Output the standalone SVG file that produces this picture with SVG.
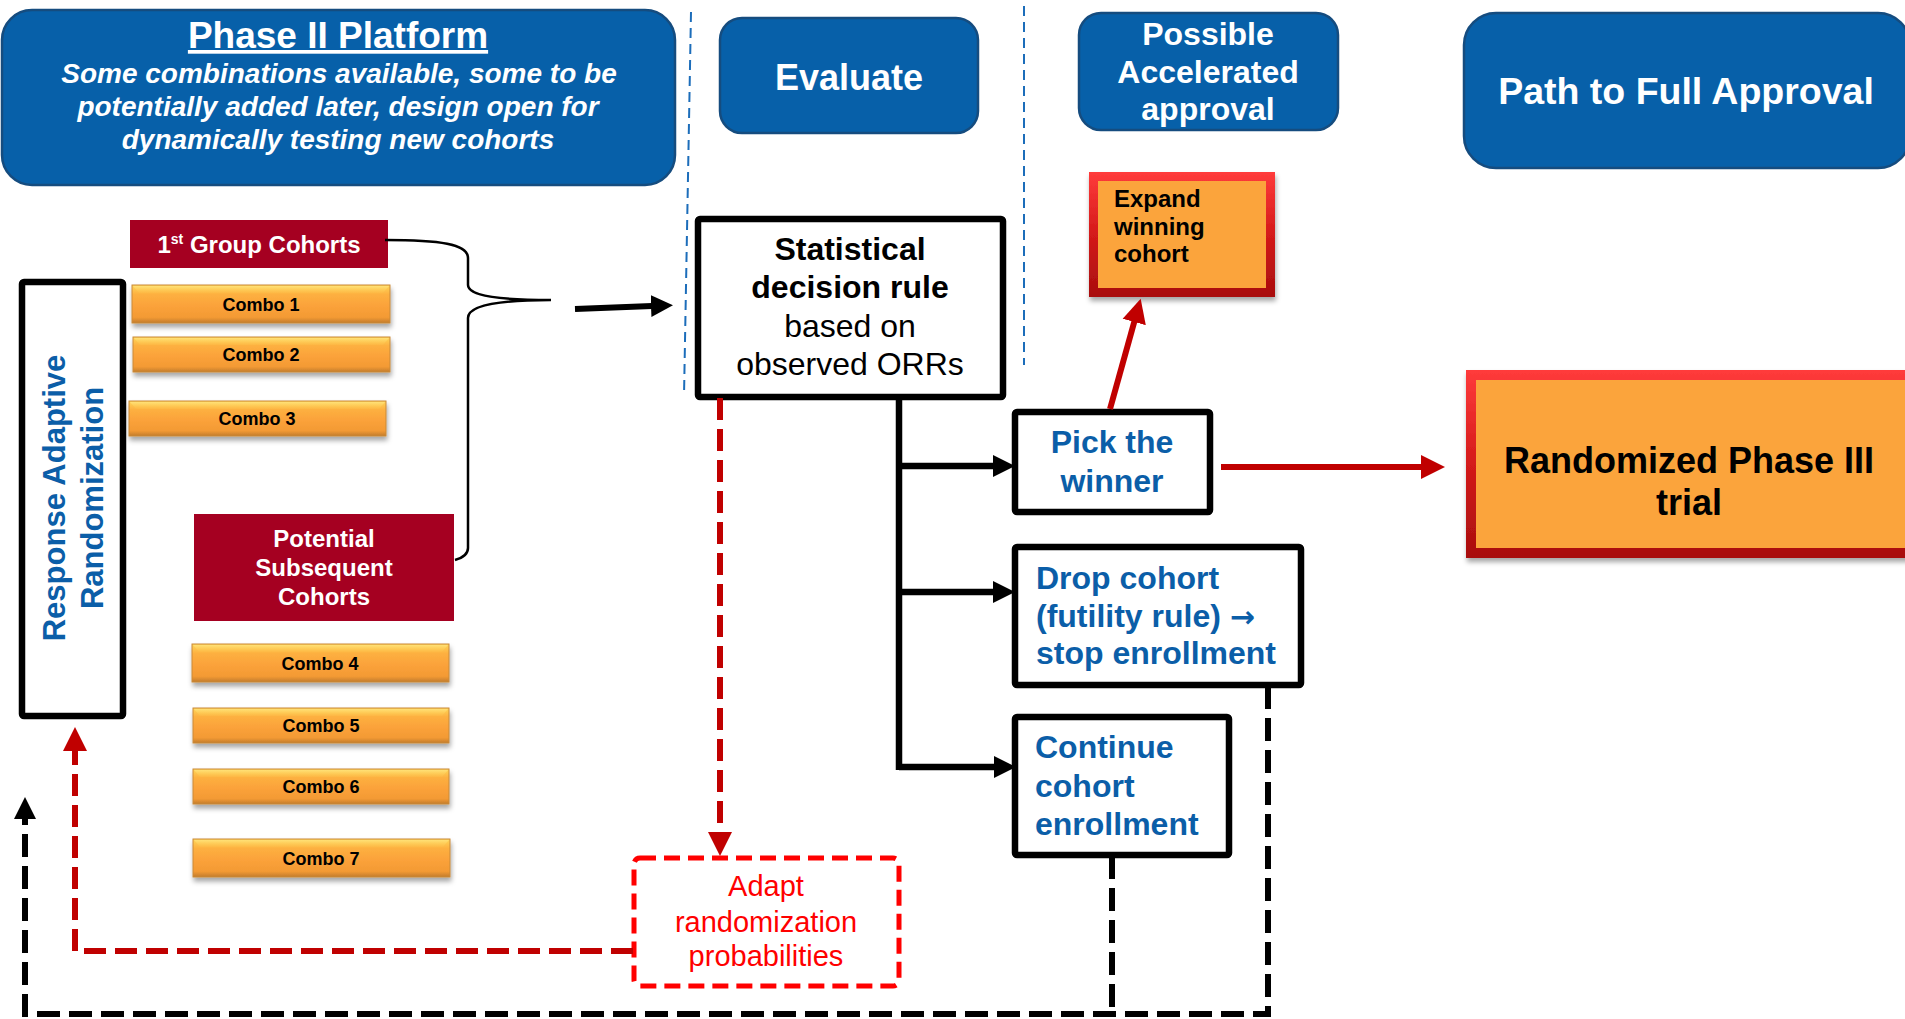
<svg xmlns="http://www.w3.org/2000/svg" width="1905" height="1019" viewBox="0 0 1905 1019">
<defs>
<style>
text{font-family:"Liberation Sans",Arial,sans-serif;}
.hdr{fill:#0760A9;stroke:#154C7F;stroke-width:2.5;}
.ht{fill:#fff;font-weight:bold;text-anchor:middle;}
.cohort{fill:#A50021;}
.ct{fill:#fff;font-weight:bold;text-anchor:middle;font-size:24px;}
.combo{fill:url(#og);stroke:#C98A3A;stroke-width:1;filter:url(#sh);}
.bev{fill:url(#yg);}
.cbt{fill:#000;font-weight:bold;text-anchor:middle;font-size:18px;}
.box{fill:#fff;stroke:#000;stroke-width:6.5;stroke-linejoin:round;}
.bt{fill:#0B5EA8;font-weight:bold;font-size:32px;}
.blk{fill:none;stroke:#000;stroke-width:6.5;}
.red{fill:none;stroke:#C00000;stroke-width:6;}
.rdash{fill:none;stroke:#C00000;stroke-width:6;stroke-dasharray:22 9;}
.kdash{fill:none;stroke:#000;stroke-width:6;stroke-dasharray:23 9;}
.bdash{fill:none;stroke:#1C6DBA;stroke-width:2;stroke-dasharray:10 6;}
</style>
<linearGradient id="og" x1="0" y1="0" x2="0" y2="1">
<stop offset="0" stop-color="#FFD65A"/>
<stop offset="0.25" stop-color="#FDB040"/>
<stop offset="0.55" stop-color="#FBA23A"/>
<stop offset="0.85" stop-color="#F39A34"/>
<stop offset="1" stop-color="#C27C2C"/>
</linearGradient>
<linearGradient id="yg" x1="0" y1="0" x2="0" y2="1">
<stop offset="0" stop-color="#FFE27A" stop-opacity="0.9"/>
<stop offset="1" stop-color="#FFC44A" stop-opacity="0.2"/>
</linearGradient>
<linearGradient id="rg" x1="0" y1="0" x2="0" y2="1">
<stop offset="0" stop-color="#FF3B3B"/>
<stop offset="0.5" stop-color="#D41A1A"/>
<stop offset="1" stop-color="#A80E0E"/>
</linearGradient>
<filter id="sh" x="-5%" y="-20%" width="115%" height="170%">
<feDropShadow dx="1" dy="4" stdDeviation="2.5" flood-color="#000" flood-opacity="0.35"/>
</filter>
<marker id="ak" markerUnits="userSpaceOnUse" markerWidth="24" markerHeight="24" refX="1" refY="11" orient="auto" viewBox="0 0 24 22">
<path d="M0,0 L22,11 L0,22 z" fill="#000"/>
</marker>
<marker id="ar" markerUnits="userSpaceOnUse" markerWidth="26" markerHeight="26" refX="1" refY="12" orient="auto" viewBox="0 0 26 24">
<path d="M0,0 L24,12 L0,24 z" fill="#C00000"/>
</marker>
</defs>

<rect width="1905" height="1019" fill="#fff"/>

<g id="separators">
<line class="bdash" x1="691" y1="12" x2="684" y2="396"/>
<line class="bdash" x1="1024" y1="6" x2="1024" y2="365"/>
</g>

<g id="hdr-phase2">
<rect class="hdr" x="2" y="10" width="673" height="175" rx="30"/>
<text class="ht" x="338" y="48" font-size="37" text-decoration="underline">Phase II Platform</text>
<text class="ht" x="339" y="83" font-size="28" font-style="italic">Some combinations available, some to be</text>
<text class="ht" x="338" y="116" font-size="28" font-style="italic">potentially added later, design open for</text>
<text class="ht" x="338" y="149" font-size="28" font-style="italic">dynamically testing new cohorts</text>
</g>

<g id="hdr-evaluate">
<rect class="hdr" x="720" y="18" width="258" height="115" rx="22"/>
<text class="ht" x="849" y="90" font-size="36">Evaluate</text>
</g>

<g id="hdr-accel">
<rect class="hdr" x="1079" y="13" width="259" height="117" rx="22"/>
<text class="ht" x="1208" y="45" font-size="32">Possible</text>
<text class="ht" x="1208" y="83" font-size="32">Accelerated</text>
<text class="ht" x="1208" y="120" font-size="32">approval</text>
</g>

<g id="hdr-full">
<rect class="hdr" x="1464" y="13" width="446" height="155" rx="32"/>
<text class="ht" x="1686" y="104" font-size="37.5">Path to Full Approval</text>
</g>

<g id="rar">
<rect class="box" x="22" y="282" width="101" height="434" rx="2" stroke-width="6"/>
<text transform="translate(65,498) rotate(-90)" fill="#0B5EA8" font-weight="bold" font-size="31" text-anchor="middle">Response Adaptive</text>
<text transform="translate(103,498) rotate(-90)" fill="#0B5EA8" font-weight="bold" font-size="31" text-anchor="middle">Randomization</text>
</g>

<g id="group1">
<rect class="cohort" x="130" y="220" width="258" height="48"/>
<text class="ct" x="259" y="253">1<tspan font-size="14" dy="-9">st</tspan><tspan dy="9"> Group Cohorts</tspan></text>
</g>

<g id="combo1"><rect class="combo" x="132" y="285" width="258" height="38"/><polygon class="bev" points="133,286 389,286 383,293 139,293"/><text class="cbt" x="261" y="311">Combo 1</text></g>
<g id="combo2"><rect class="combo" x="133" y="337" width="257" height="35"/><polygon class="bev" points="134,338 389,338 383,345 140,345"/><text class="cbt" x="261" y="361">Combo 2</text></g>
<g id="combo3"><rect class="combo" x="129" y="401" width="257" height="35"/><polygon class="bev" points="130,402 385,402 379,409 136,409"/><text class="cbt" x="257" y="425">Combo 3</text></g>

<g id="subsequent">
<rect class="cohort" x="194" y="514" width="260" height="107"/>
<text class="ct" x="324" y="547" font-size="23">Potential</text>
<text class="ct" x="324" y="576" font-size="23">Subsequent</text>
<text class="ct" x="324" y="605" font-size="23">Cohorts</text>
</g>

<g id="combo4"><rect class="combo" x="192" y="644" width="257" height="38"/><polygon class="bev" points="193,645 448,645 442,652 199,652"/><text class="cbt" x="320" y="670">Combo 4</text></g>
<g id="combo5"><rect class="combo" x="193" y="708" width="256" height="35"/><polygon class="bev" points="194,709 448,709 442,716 200,716"/><text class="cbt" x="321" y="732">Combo 5</text></g>
<g id="combo6"><rect class="combo" x="193" y="769" width="256" height="35"/><polygon class="bev" points="194,770 448,770 442,777 200,777"/><text class="cbt" x="321" y="793">Combo 6</text></g>
<g id="combo7"><rect class="combo" x="193" y="839" width="257" height="38"/><polygon class="bev" points="194,840 449,840 443,847 200,847"/><text class="cbt" x="321" y="865">Combo 7</text></g>

<g id="decision">
<rect class="box" x="698" y="219" width="305" height="178" rx="2"/>
<text x="850" y="260" font-size="32" font-weight="bold" text-anchor="middle">Statistical</text>
<text x="850" y="298" font-size="32" font-weight="bold" text-anchor="middle">decision rule</text>
<text x="850" y="337" font-size="32" text-anchor="middle">based on</text>
<text x="850" y="375" font-size="32" text-anchor="middle">observed ORRs</text>
</g>

<g id="expand">
<rect x="1089" y="172" width="186" height="125" fill="url(#rg)" filter="url(#sh)"/>
<rect x="1098" y="181" width="168" height="107" fill="#FBA43C"/>
<text x="1114" y="207" font-size="24" font-weight="bold">Expand</text>
<text x="1114" y="235" font-size="24" font-weight="bold">winning</text>
<text x="1114" y="262" font-size="24" font-weight="bold">cohort</text>
</g>

<g id="pick">
<rect class="box" x="1015" y="412" width="195" height="100" rx="2"/>
<text class="bt" x="1112" y="453" text-anchor="middle">Pick the</text>
<text class="bt" x="1112" y="492" text-anchor="middle">winner</text>
</g>

<g id="drop">
<rect class="box" x="1015" y="547" width="286" height="138" rx="2"/>
<text class="bt" x="1036" y="589">Drop cohort</text>
<text class="bt" x="1036" y="627">(futility rule) <tspan font-family="'DejaVu Sans',sans-serif" font-size="30">→</tspan></text>
<text class="bt" x="1036" y="664">stop enrollment</text>
</g>

<g id="continue">
<rect class="box" x="1015" y="717" width="214" height="138" rx="2"/>
<text class="bt" x="1035" y="758">Continue</text>
<text class="bt" x="1035" y="797">cohort</text>
<text class="bt" x="1035" y="835">enrollment</text>
</g>

<g id="phase3">
<rect x="1466" y="370" width="450" height="188" fill="url(#rg)" filter="url(#sh)"/>
<rect x="1476" y="380" width="440" height="168" fill="#FBA43C"/>
<text x="1689" y="473" font-size="36" font-weight="bold" text-anchor="middle">Randomized Phase III</text>
<text x="1689" y="515" font-size="36" font-weight="bold" text-anchor="middle">trial</text>
</g>

<g id="adapt">
<rect x="634" y="858" width="265" height="128" rx="6" fill="#fff" stroke="#FF0000" stroke-width="5" stroke-dasharray="16 8"/>
<text x="766" y="896" font-size="29" fill="#FF0000" text-anchor="middle">Adapt</text>
<text x="766" y="932" font-size="29" fill="#FF0000" text-anchor="middle">randomization</text>
<text x="766" y="966" font-size="29" fill="#FF0000" text-anchor="middle">probabilities</text>
</g>

<g id="connectors">
<path d="M385,240 C440,240 468,244 468,258 L468,285 C468,296 500,300 551,300 C500,300 468,305 468,318 L468,548 C468,555 462,558 455,560" fill="none" stroke="#000" stroke-width="2.5"/>
<line x1="575" y1="309" x2="652" y2="306" stroke="#000" stroke-width="6" marker-end="url(#ak)"/>
<path class="blk" d="M899,397 V770"/>
<path class="blk" d="M899,466 H994" marker-end="url(#ak)"/>
<path class="blk" d="M899,592 H994" marker-end="url(#ak)"/>
<path class="blk" d="M899,767 H995" marker-end="url(#ak)"/>
<line class="red" x1="1110" y1="409" x2="1134.5" y2="321" marker-end="url(#ar)"/>
<path class="red" d="M1221,467 H1422" marker-end="url(#ar)"/>
<path class="rdash" d="M720,398 V833" marker-end="url(#ar)"/>
<path class="rdash" d="M633,951 H75 V750" marker-end="url(#ar)"/>
<path class="kdash" d="M1112,856 V1014"/>
<path class="kdash" d="M1268,686 V1014 H25 V818" marker-end="url(#ak)"/>
</g>
</svg>
